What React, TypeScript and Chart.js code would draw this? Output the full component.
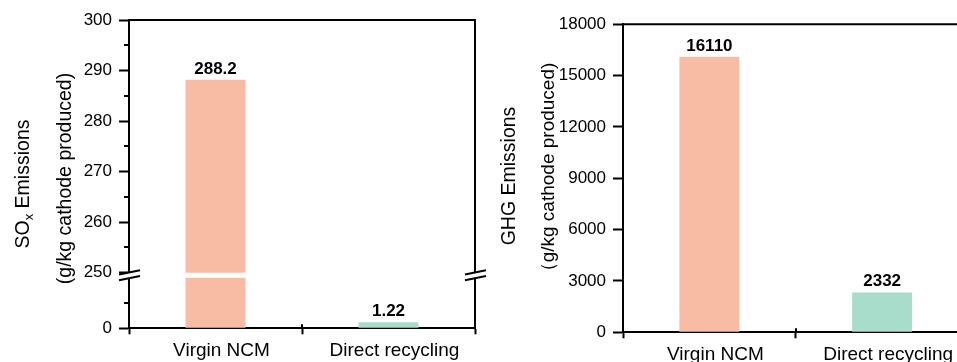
import React, { useEffect, useRef } from 'react';
import { Chart, registerables, LinearScale } from 'chart.js';

// ---------- data ----------
const categories = ['Virgin NCM', 'Direct recycling'];
const soxValues = [288.2, 1.22];
const ghgValues = [16110, 2332];
const barColors = ['#F8BBA4', '#A8DCCB'];
const soxTicks = [0, 250, 260, 270, 280, 290, 300];
const soxMinorTicks = [5, 255, 265, 275, 285, 295];
const ghgTicks = [0, 3000, 6000, 9000, 12000, 15000, 18000];
const soxBreakLow = 10; // lower segment upper bound
const soxBreakHigh = 250; // upper segment lower bound
const soxBreakGap = 1; // gap size in value units

const FONT = '"Liberation Sans", Arial, Helvetica, sans-serif';

class BrokenLinearScale extends LinearScale {
  static id = 'brokenLinear';
  static defaults = {};

  _virtual(value: number) {
    if (value <= soxBreakLow) return value;
    if (value >= soxBreakHigh) return soxBreakLow + soxBreakGap + (value - soxBreakHigh);
    return soxBreakLow + (soxBreakGap * (value - soxBreakLow)) / (soxBreakHigh - soxBreakLow);
  }
  _total() {
    return soxBreakLow + soxBreakGap + ((this as any).max - soxBreakHigh);
  }
  getPixelForValue(value: any) {
    if (value === null || value === undefined) return NaN;
    const t = this._virtual(+value) / this._total();
    return (this as any).getPixelForDecimal(t);
  }
  getValueForPixel(pixel: number) {
    const t = (this as any).getDecimalForPixel(pixel) * this._total();
    if (t <= soxBreakLow) return t;
    if (t >= soxBreakLow + soxBreakGap) return t - soxBreakLow - soxBreakGap + soxBreakHigh;
    return soxBreakLow + ((t - soxBreakLow) / soxBreakGap) * (soxBreakHigh - soxBreakLow);
  }
}

Chart.register(...registerables);
Chart.register(BrokenLinearScale as any);

function drawTitleLine(ctx: CanvasRenderingContext2D, x: number, yc: number, parts: { text: string; size: number; dy: number }[]) {
  ctx.save();
  ctx.translate(x, yc);
  ctx.rotate(-Math.PI / 2);
  ctx.fillStyle = '#000';
  ctx.textBaseline = 'alphabetic';
  ctx.textAlign = 'left';
  const widths = parts.map((p) => {
    ctx.font = `${p.size}px ${FONT}`;
    return ctx.measureText(p.text).width;
  });
  let cx = -widths.reduce((a, b) => a + b, 0) / 2;
  parts.forEach((p, i) => {
    ctx.font = `${p.size}px ${FONT}`;
    ctx.fillText(p.text, cx, p.dy);
    cx += widths[i];
  });
  ctx.restore();
}

function makeDecor(cfg: {
  values: number[];
  broken: boolean;
  minor: number[];
  titles: { x: number; yc: number; parts: { text: string; size: number; dy: number }[] }[];
}) {
  return {
    id: 'decor',
    afterDraw(chart: any) {
      const { ctx } = chart;
      const { left, right, top, bottom } = chart.chartArea;
      const ys = chart.scales.y;
      const xs = chart.scales.x;
      ctx.save();
      ctx.strokeStyle = '#000';
      ctx.lineWidth = 2;
      // frame: top and right
      ctx.beginPath();
      ctx.moveTo(left - 1, top);
      ctx.lineTo(right, top);
      ctx.lineTo(right, bottom + 1);
      ctx.stroke();
      // minor ticks
      for (const v of cfg.minor) {
        const py = Math.round(ys.getPixelForValue(v));
        ctx.beginPath();
        ctx.moveTo(left - 5, py);
        ctx.lineTo(left, py);
        ctx.stroke();
      }
      // middle x tick crossing inward
      const mid = (xs.getPixelForValue(0) + xs.getPixelForValue(1)) / 2;
      ctx.beginPath();
      ctx.moveTo(Math.round(mid), bottom - 4);
      ctx.lineTo(Math.round(mid), bottom);
      ctx.stroke();

      if (cfg.broken) {
        const yHi = ys.getPixelForValue(soxBreakHigh);
        const yLo = ys.getPixelForValue(soxBreakLow);
        const yc = (yHi + yLo) / 2;
        ctx.fillStyle = '#fff';
        ctx.fillRect(left + 1, yHi, right - left - 2, yLo - yHi);
        for (const ax of [left, right]) {
          const x0 = ax - 10;
          const x1 = ax + 11;
          const off = 2.85;
          const sl = 2.15;
          ctx.fillStyle = '#fff';
          ctx.beginPath();
          ctx.moveTo(x0, yc - off + sl);
          ctx.lineTo(x1, yc - off - sl);
          ctx.lineTo(x1, yc + off - sl);
          ctx.lineTo(x0, yc + off + sl);
          ctx.closePath();
          ctx.fill();
          for (const o of [-off, off]) {
            ctx.beginPath();
            ctx.moveTo(x0, yc + o + sl);
            ctx.lineTo(x1, yc + o - sl);
            ctx.stroke();
          }
        }
      }

      // value labels
      const meta = chart.getDatasetMeta(0);
      ctx.fillStyle = '#000';
      ctx.font = `bold 17px ${FONT}`;
      ctx.textAlign = 'center';
      ctx.textBaseline = 'alphabetic';
      meta.data.forEach((bar: any, i: number) => {
        ctx.fillText(String(cfg.values[i]), bar.x, bar.y - 6);
      });
      ctx.restore();

      for (const t of cfg.titles) drawTitleLine(ctx, t.x, t.yc, t.parts);
    },
  };
}

function makeConfig(opts: {
  values: number[];
  yType: string;
  yMax: number;
  ticks: number[];
  minor: number[];
  broken: boolean;
  padding: any;
  yWidth: number;
  xHeight: number;
  titles: any[];
}): any {
  return {
    type: 'bar',
    data: {
      labels: categories,
      datasets: [
        {
          data: opts.values,
          backgroundColor: barColors,
          borderWidth: 0,
          categoryPercentage: 1,
          barPercentage: 0.347,
        },
      ],
    },
    options: {
      animation: false,
      responsive: false,
      devicePixelRatio: 1,
      layout: { padding: opts.padding },
      plugins: { legend: { display: false }, tooltip: { enabled: false } },
      scales: {
        x: {
          type: 'category',
          offset: true,
          grid: { display: true, offset: true, drawOnChartArea: false, drawTicks: true, tickLength: 6, tickWidth: 2, tickColor: '#000' },
          border: { display: true, color: '#000', width: 2 },
          ticks: { color: '#000', font: { family: FONT, size: 19 }, padding: 5, labelOffset: 6, maxRotation: 0, autoSkip: false },
          afterFit: (s: any) => {
            s.height = opts.xHeight;
          },
        },
        y: {
          type: opts.yType,
          min: 0,
          max: opts.yMax,
          grid: { display: true, drawOnChartArea: false, drawTicks: true, tickLength: 10, tickWidth: 2, tickColor: '#000' },
          border: { display: true, color: '#000', width: 2 },
          ticks: { color: '#000', font: { family: FONT, size: 17 }, padding: 7, autoSkip: false, callback: (v: any) => String(v) },
          afterBuildTicks: (s: any) => {
            s.ticks = opts.ticks.map((v) => ({ value: v }));
          },
          afterFit: (s: any) => {
            s.width = opts.yWidth;
          },
        },
      },
    },
    plugins: [makeDecor({ values: opts.values, broken: opts.broken, minor: opts.minor, titles: opts.titles })],
  };
}

export default function App() {
  const leftRef = useRef<HTMLCanvasElement>(null);
  const rightRef = useRef<HTMLCanvasElement>(null);

  useEffect(() => {
    const left = new Chart(
      leftRef.current as HTMLCanvasElement,
      makeConfig({
        values: soxValues,
        yType: 'brokenLinear',
        yMax: 300,
        ticks: soxTicks,
        minor: soxMinorTicks,
        broken: true,
        padding: { top: 20, right: 15, bottom: 0, left: 0 },
        yWidth: 129,
        xHeight: 33.7,
        titles: [
          {
            x: 28.5,
            yc: 184,
            parts: [
              { text: 'SO', size: 19.5, dy: 0 },
              { text: 'x', size: 13, dy: 4 },
              { text: ' Emissions', size: 19.5, dy: 0 },
            ],
          },
          { x: 71, yc: 178.5, parts: [{ text: '(g/kg cathode produced)', size: 19.5, dy: 0 }] },
        ],
      })
    );
    const right = new Chart(
      rightRef.current as HTMLCanvasElement,
      makeConfig({
        values: ghgValues,
        yType: 'linear',
        yMax: 18000,
        ticks: ghgTicks,
        minor: [],
        broken: false,
        padding: { top: 24.3, right: 11.5, bottom: 0, left: 0 },
        yWidth: 133,
        xHeight: 33.7,
        titles: [
          { x: 25, yc: 176, parts: [{ text: 'GHG Emissions', size: 19.5, dy: 0 }] },
          { x: 64.3, yc: 172, parts: [{ text: '（g/kg cathode produced)', size: 19, dy: 0 }] },
        ],
      })
    );
    return () => {
      left.destroy();
      right.destroy();
    };
  }, []);

  return (
    <div style={{ position: 'absolute', left: 0, top: 0, width: 957, height: 362, overflow: 'hidden', background: '#fff' }}>
      <canvas ref={leftRef} width={490} height={362} style={{ position: 'absolute', left: 0, top: 0 }} />
      <canvas ref={rightRef} width={490} height={366} style={{ position: 'absolute', left: 490, top: 0 }} />
    </div>
  );
}
